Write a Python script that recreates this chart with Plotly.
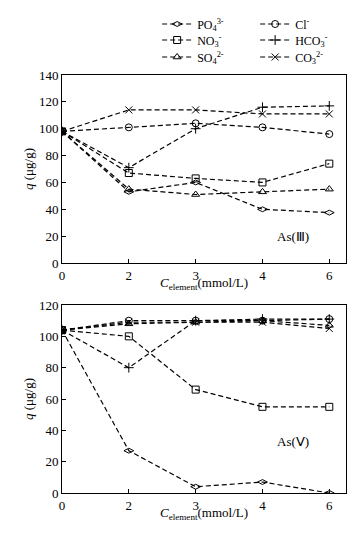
import plotly.graph_objects as go
from plotly.subplots import make_subplots

conc_labels = ["0", "2", "3", "4", "6"]

series_names = ["PO<sub>4</sub><sup>3-</sup>", "Cl<sup>-</sup>", "NO<sub>3</sub><sup>-</sup>",
                "HCO<sub>3</sub><sup>-</sup>", "SO<sub>4</sub><sup>2-</sup>", "CO<sub>3</sub><sup>2-</sup>"]
series_symbols = ["diamond-wide-open", "circle-open", "square-open", "cross-thin-open",
                  "triangle-up-open", "x-thin-open"]
legend_rows = ["legend", "legend", "legend2", "legend2", "legend3", "legend3"]

# As(III)
as3_po4 = [98, 53, 60, 40, 37.5]
as3_cl = [98, 101, 104, 101, 96]
as3_no3 = [98, 67, 63, 60, 74]
as3_hco3 = [98, 71, 100, 116, 117]
as3_so4 = [98, 55, 51, 53, 55]
as3_co3 = [98, 114, 114, 111, 111]

# As(V)
as5_po4 = [104, 27, 4, 7, 0]
as5_cl = [104, 110, 110, 110, 111]
as5_no3 = [104, 100, 66, 55, 55]
as5_hco3 = [104, 80, 110, 111, 111]
as5_so4 = [104, 108, 109, 110, 107]
as5_co3 = [104, 109, 109, 109, 105]

as3 = [as3_po4, as3_cl, as3_no3, as3_hco3, as3_so4, as3_co3]
as5 = [as5_po4, as5_cl, as5_no3, as5_hco3, as5_so4, as5_co3]

W, H = 359, 535
ml, mr, mt, mb = 62, 13, 75, 42
ph = H - mt - mb
top_dom = [1 - (263 - mt) / ph, 1]
bot_dom = [0, 1 - (305 - mt) / ph]


def py(pix):
    return 1 - (pix - mt) / ph


fig = make_subplots(rows=2, cols=1)

font_family = "Liberation Serif, Times New Roman, serif"
black13 = dict(family=font_family, size=13, color="black")
black12 = dict(family=font_family, size=12, color="black")

for i, name in enumerate(series_names):
    sym = series_symbols[i]
    mk = dict(symbol=sym, size=7, color="black", line=dict(color="black", width=1))
    fig.add_trace(go.Scatter(x=conc_labels, y=as3[i], name=name, mode="lines+markers",
                             line=dict(color="black", width=1.2, dash="5px,3px"),
                             marker=mk, legend=legend_rows[i], showlegend=True), row=1, col=1)
    fig.add_trace(go.Scatter(x=conc_labels, y=as5[i], name=name, mode="lines+markers",
                             line=dict(color="black", width=1.2, dash="5px,3px"),
                             marker=mk, showlegend=False), row=2, col=1)

axis_common = dict(showline=True, linecolor="black", linewidth=1, mirror=True,
                   ticks="inside", ticklen=4, tickcolor="black", showgrid=False,
                   zeroline=False, tickfont=black13)

for r in (1, 2):
    fig.update_xaxes(type="category", range=[0, 4.25], **axis_common, row=r, col=1)

ytitle = "<i>q</i> (μg/g)"
fig.update_yaxes(range=[0, 140], dtick=20, domain=top_dom,
                 title=dict(text=ytitle, standoff=2, font=black13),
                 **axis_common, row=1, col=1)
fig.update_yaxes(range=[0, 120], dtick=20, domain=bot_dom,
                 title=dict(text=ytitle, standoff=2, font=black13),
                 **axis_common, row=2, col=1)

xtitle = "<i>C</i><sub>element</sub>(mmol/L)"
for ycen in (283, 513):
    fig.add_annotation(x=0.5, y=py(ycen), xref="paper", yref="paper", text=xtitle,
                       showarrow=False, xanchor="center", yanchor="middle", font=black13)

fig.add_annotation(x=3.45, y=20, xref="x", yref="y", text="As(Ⅲ)", showarrow=False,
                   font=black13)
fig.add_annotation(x=3.45, y=33, xref="x2", yref="y2", text="As(Ⅴ)", showarrow=False,
                   font=black13)

leg_common = dict(orientation="h", x=0.335, xanchor="left", yanchor="middle",
                  entrywidth=53, entrywidthmode="pixels", font=black12,
                  bgcolor="rgba(0,0,0,0)")

fig.update_layout(
    width=W, height=H,
    margin=dict(l=ml, r=mr, t=mt, b=mb, autoexpand=False),
    paper_bgcolor="white", plot_bgcolor="white",
    font=black13,
    legend=dict(y=py(24), **leg_common),
    legend2=dict(y=py(40), **leg_common),
    legend3=dict(y=py(57), **leg_common),
)

fig.write_html("out.html", config={"displayModeBar": False},
               post_script="document.body.style.margin='0';document.body.style.overflow='hidden';")
